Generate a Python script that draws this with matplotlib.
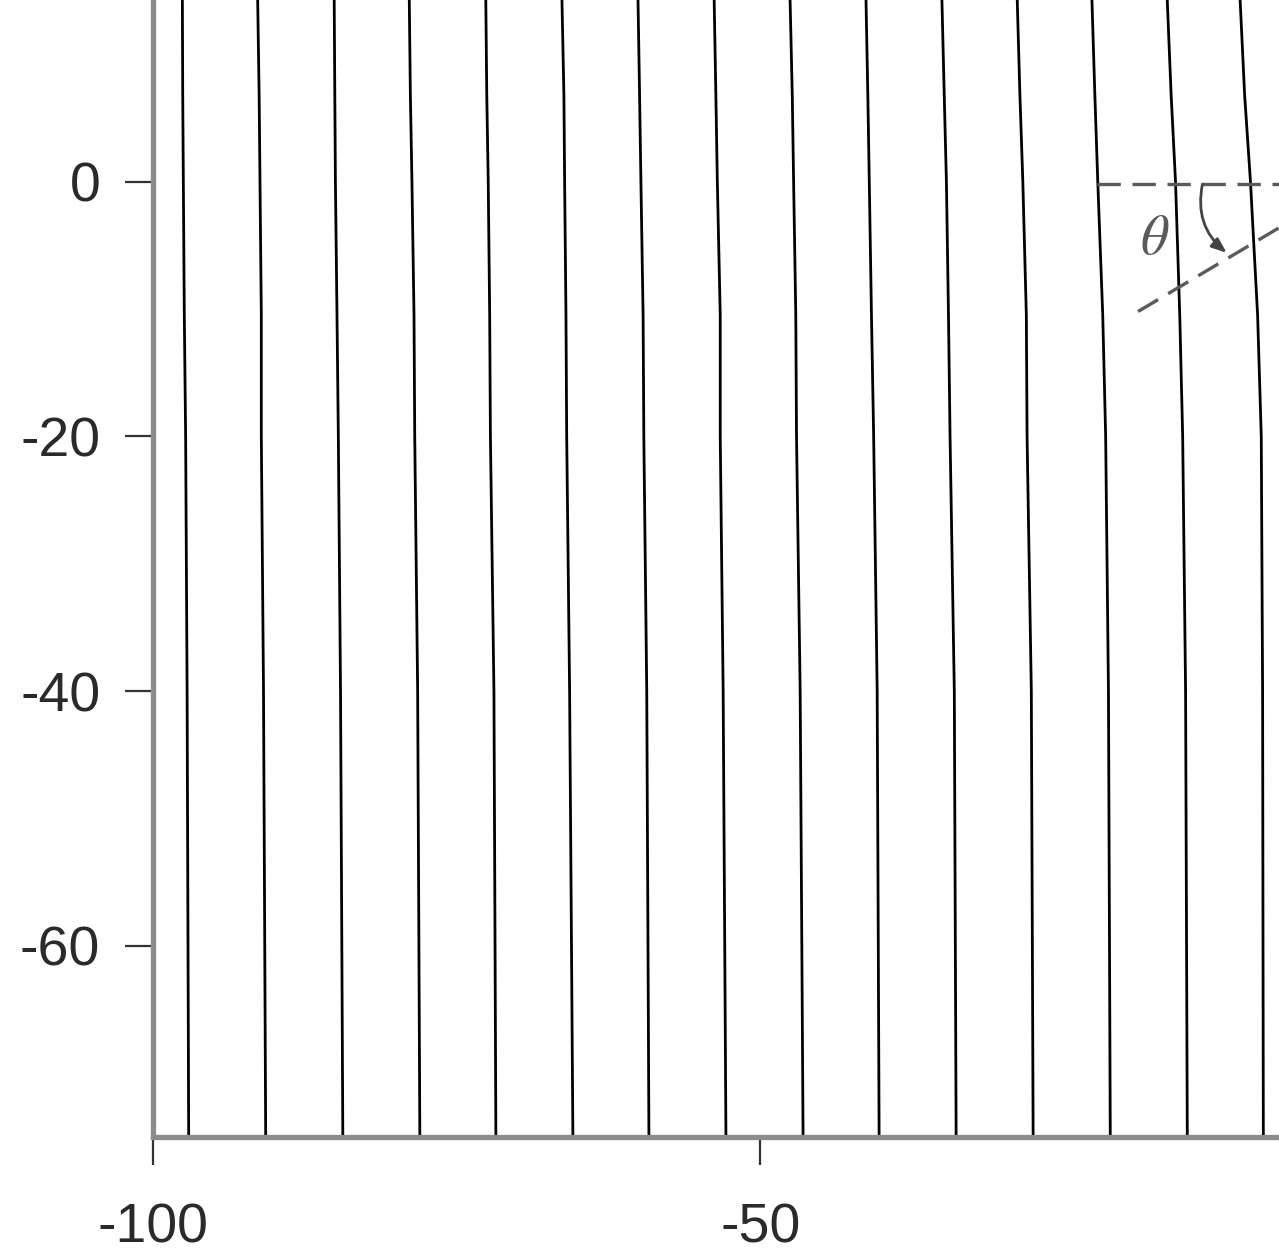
import numpy as np
import matplotlib
matplotlib.use('Agg')
import matplotlib.pyplot as plt

plt.rcParams['axes.unicode_minus'] = False

# 每条线在几个高度上的 x 位置
y_levels = [-75, -40, -20, -10.5, 0, 6.8, 14.25]
x_at_m75 = [-97.06, -90.72, -84.37, -78.03, -71.77, -65.43, -59.17, -52.83, -46.48, -40.22, -33.88, -27.54, -21.19, -14.85, -8.59]
x_at_m40 = [-97.19, -90.90, -84.56, -78.21, -71.93, -65.70, -59.35, -53.06, -46.72, -40.38, -34.03, -27.69, -21.34, -14.99, -8.65]
x_at_m20 = [-97.31, -91.08, -84.74, -78.45, -72.22, -65.94, -59.59, -53.30, -47.02, -40.67, -34.38, -28.04, -21.57, -15.23, -8.76]
x_at_m10 = [-97.42, -91.08, -84.85, -78.51, -72.28, -66.00, -59.65, -53.30, -47.08, -40.85, -34.51, -28.10, -21.81, -15.47, -9.06]
x_at_0 = [-97.50, -91.19, -84.98, -78.68, -72.40, -66.11, -59.83, -53.54, -47.26, -41.03, -34.68, -28.39, -22.22, -15.82, -9.65]
x_at_p7 = [-97.55, -91.26, -85.03, -78.81, -72.52, -66.17, -59.94, -53.66, -47.37, -41.15, -34.86, -28.63, -22.46, -16.18, -10.13]
x_at_top = [-97.58, -91.38, -85.08, -78.90, -72.60, -66.33, -60.07, -53.80, -47.55, -41.30, -35.05, -28.85, -22.70, -16.50, -10.50]

x_ticks = [-100, -50]
y_ticks = [0, -20, -40, -60]

ref_y = -0.2
ref_x_start = -22.3
tilt_start = (-18.9, -10.2)
tilt_end = (0.0, 0.5)
arc_start = (-13.6, -0.2)
arc_end = (-11.6, -5.6)
theta_pos = (-17.5, -4.5)

spine_col = '#8c8c8c'
text_col = '#2a2a2a'
dash_col = '#5a5a5a'


def draw_picture():
    fig = plt.figure(figsize=(12.79, 12.60), dpi=100)
    ax = fig.add_axes([0.1196, 0.0976, 0.8804, 0.9024])

    cols = np.array([x_at_m75, x_at_m40, x_at_m20, x_at_m10, x_at_0, x_at_p7, x_at_top])
    for i in range(cols.shape[1]):
        ax.plot(cols[:, i], y_levels, color='black', lw=2.0, solid_capstyle='butt',
                solid_joinstyle='round')

    # 参考线与角度
    ax.plot([ref_x_start, 0], [ref_y, ref_y], ls=(0, (7, 3.5)), color=dash_col, lw=2.4)
    ax.plot([tilt_start[0], tilt_end[0]], [tilt_start[1], tilt_end[1]], ls=(0, (7, 3.5)),
            color=dash_col, lw=2.4)
    ax.annotate('', xy=arc_end, xytext=arc_start,
                arrowprops=dict(arrowstyle='-|>,head_length=0.9,head_width=0.35', color='#444444', lw=2.0,
                                connectionstyle='arc3,rad=0.3', shrinkA=0, shrinkB=0))
    ax.text(theta_pos[0], theta_pos[1], r'$\theta$', fontsize=40, color='#5a5a5a',
            ha='center', va='center', math_fontfamily='stix')

    ax.set_xlim(-100, -7.3)
    ax.set_ylim(-75, 14.25)
    ax.set_xticks(x_ticks)
    ax.set_yticks(y_ticks)
    for s in ['top', 'right']:
        ax.spines[s].set_visible(False)
    for s in ['left', 'bottom']:
        ax.spines[s].set_color(spine_col)
        ax.spines[s].set_linewidth(3.8)
    ax.tick_params(axis='both', direction='out', length=20, width=1.6, color='#333333',
                   labelsize=40, labelcolor=text_col)
    ax.tick_params(axis='y', pad=18)
    ax.tick_params(axis='x', pad=27)
    for lab in ax.get_xticklabels() + ax.get_yticklabels():
        lab.set_family('Liberation Sans')

    fig.savefig('out.png', dpi=100)


def main():
    draw_picture()


if __name__ == '__main__':
    main()
